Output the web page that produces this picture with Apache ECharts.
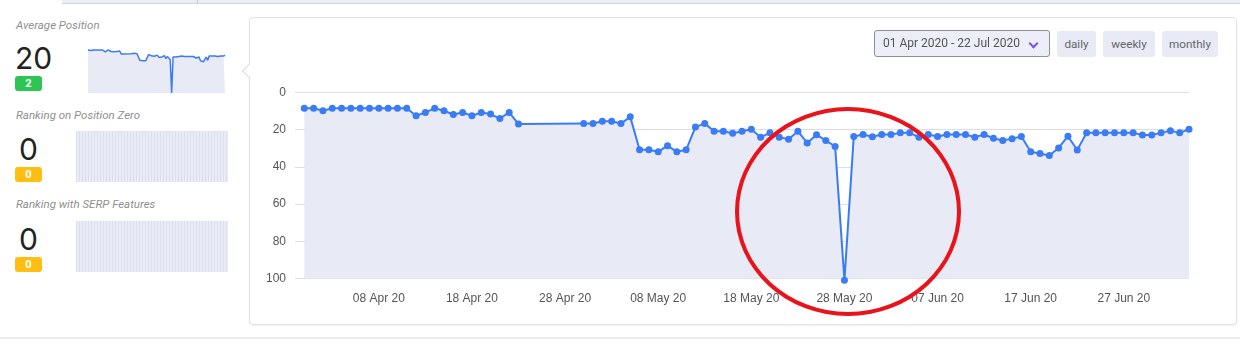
<!DOCTYPE html>
<html>
<head>
<meta charset="utf-8">
<script src="https://cdn.jsdelivr.net/npm/echarts@6/dist/echarts.min.js"></script>
<style>
  html, body { margin: 0; padding: 0; background: #fff; }
  body { width: 1240px; height: 344px; position: relative; overflow: hidden; font-family: Roboto, "Noto Sans", Arial, sans-serif; }
  .abs { position: absolute; }
  .topbar { left: 62px; top: 0; width: 1178px; height: 3px; background: #eceef6; border-bottom: 1px solid #d3d6e2; }
  .topdiv { left: 197px; top: 0; width: 1px; height: 4px; background: #c6c9d6; }
  .bottomline { left: 0; top: 337px; width: 1240px; height: 2px; background: #ececec; }
  .card { left: 249px; top: 17px; width: 986px; height: 306px; border: 1px solid #e3e3e3; border-radius: 4px; background: #fff; box-shadow: 0 1px 2px rgba(0,0,0,0.06); }
  .notch { left: 244px; top: 65.5px; width: 9px; height: 9px; background: #fff; border-left: 1px solid #dcdcdc; border-bottom: 1px solid #dcdcdc; transform: rotate(45deg); }
  .lbl { font-size: 11.5px; font-style: italic; color: #8f8f8f; left: 16px; white-space: nowrap; }
  .big { font-family: Inter, Roboto, sans-serif; font-size: 30px; color: #222; line-height: 30px; white-space: nowrap; text-align: center; }
  .badge { width: 27px; height: 15px; border-radius: 3px; color: #fff; font-weight: bold; font-size: 11px; line-height: 15px; text-align: center; left: 15px; }
  .green { background: #2dc653; }
  .amber { background: #ffbf12; }
  .zbox { left: 76px; width: 152px; height: 51px; background: #e9ebf6;
          background-image: repeating-linear-gradient(90deg, rgba(210,213,235,0.55) 0px, rgba(210,213,235,0.55) 1px, transparent 1px, transparent 3px); }
  #chart { left: 0; top: 0; width: 1240px; height: 344px; }
  .picker { left: 874px; top: 30px; width: 174px; height: 25px; border: 1px solid #8f8f96; border-radius: 3px; background: #eceef8; font-size: 12px; color: #555; line-height: 25px; box-sizing: content-box; }
  .picker span { position: absolute; left: 8px; top: 0; }
  .chev { position: absolute; left: 155px; top: 9px; width: 5px; height: 5px; border-right: 2px solid #7d52d8; border-bottom: 2px solid #7d52d8; transform: rotate(45deg); }
  .btn { top: 31px; height: 26px; border-radius: 3px; background: #e8eaf6; color: #666; font-size: 11.7px; line-height: 26px; text-align: center; }
  .ellipse { left: 735px; top: 107px; width: 226px; height: 209px; border: 4px solid #e8131b; border-radius: 50%; box-sizing: border-box; }
</style>
</head>
<body>
<div class="abs topbar"></div>
<div class="abs topdiv"></div>
<div class="abs bottomline"></div>
<div class="abs card"></div>
<div class="abs notch"></div>

<div class="abs lbl" style="top:18px;">Average Position</div>
<div class="abs big" style="left:15px; top:43px;">20</div>
<div class="abs badge green" style="top:76px;">2</div>

<div class="abs lbl" style="top:108px;">Ranking on Position Zero</div>
<div class="abs big" style="left:15px; width:27px; top:134px;">0</div>
<div class="abs badge amber" style="top:167px;">0</div>
<div class="abs zbox" style="top:131px;"></div>

<div class="abs lbl" style="top:197px;">Ranking with SERP Features</div>
<div class="abs big" style="left:15px; width:27px; top:224px;">0</div>
<div class="abs badge amber" style="top:257px;">0</div>
<div class="abs zbox" style="top:221px;"></div>

<div id="chart" class="abs"></div>

<div class="abs picker"><span>01 Apr 2020 - 22 Jul 2020</span><div class="chev"></div></div>
<div class="abs btn" style="left:1057px; width:39px;">daily</div>
<div class="abs btn" style="left:1103px; width:52px;">weekly</div>
<div class="abs btn" style="left:1162px; width:56px;">monthly</div>

<div class="abs ellipse"></div>

<script>
// ---- data ----
const dates = [
  '2020-03-31','2020-04-01','2020-04-02','2020-04-03','2020-04-04','2020-04-05','2020-04-06','2020-04-07',
  '2020-04-08','2020-04-09','2020-04-10','2020-04-11','2020-04-12','2020-04-13','2020-04-14','2020-04-15',
  '2020-04-16','2020-04-17','2020-04-18','2020-04-19','2020-04-20','2020-04-21','2020-04-22','2020-04-23',
  '2020-04-30','2020-05-01','2020-05-02','2020-05-03','2020-05-04','2020-05-05','2020-05-06','2020-05-07',
  '2020-05-08','2020-05-09','2020-05-10','2020-05-11','2020-05-12','2020-05-13','2020-05-14','2020-05-15',
  '2020-05-16','2020-05-17','2020-05-18','2020-05-19','2020-05-20','2020-05-21','2020-05-22','2020-05-23',
  '2020-05-24','2020-05-25','2020-05-26','2020-05-27','2020-05-28','2020-05-29','2020-05-30','2020-05-31',
  '2020-06-01','2020-06-02','2020-06-03','2020-06-04','2020-06-05','2020-06-06','2020-06-07','2020-06-08',
  '2020-06-09','2020-06-10','2020-06-11','2020-06-12','2020-06-13','2020-06-14','2020-06-15','2020-06-16',
  '2020-06-17','2020-06-18','2020-06-19','2020-06-20','2020-06-21','2020-06-22','2020-06-23','2020-06-24',
  '2020-06-25','2020-06-26','2020-06-27','2020-06-28','2020-06-29','2020-06-30','2020-07-01','2020-07-02',
  '2020-07-03','2020-07-04'
];
const avgPosition = [
  8.5, 8.5, 9.8, 8.5, 8.5, 8.5, 8.5, 8.5,
  8.5, 8.5, 8.5, 8.5, 12.5, 10.7, 8.5, 9.8,
  11.8, 10.7, 12.5, 10.7, 11.6, 14, 10.7, 17,
  16.7, 16.7, 15.5, 15.5, 16.7, 13.1, 30.8, 30.8,
  31.9, 28.6, 31.9, 30.8, 18.6, 16.6, 20.8, 20.8,
  21.9, 20.8, 19.7, 24, 21.7, 24, 25.1, 20.8,
  27.1, 22.7, 25.8, 29, 101, 23.6, 22.6, 23.8,
  22.6, 22.6, 21.7, 21.7, 24, 22.6, 23.7, 22.6,
  22.6, 22.6, 24, 22.6, 24.6, 25.8, 24.8, 23.7,
  31.9, 32.8, 33.9, 29.8, 23.5, 30.9, 21.7, 21.7,
  21.7, 21.7, 21.7, 21.7, 22.8, 22.8, 21.7, 20.5,
  21.7, 19.7
];
const xTickDates = ['2020-04-08','2020-04-18','2020-04-28','2020-05-08','2020-05-18','2020-05-28','2020-06-07','2020-06-17','2020-06-27'];
const yTicks = [0, 20, 40, 60, 80, 100];
const axisStart = '2020-03-30';
const axisEnd = '2020-07-04';
const monthNames = ['Jan','Feb','Mar','Apr','May','Jun','Jul','Aug','Sep','Oct','Nov','Dec'];

// ---- helpers ----
function ts(s) { const p = s.split('-').map(Number); return Date.UTC(p[0], p[1] - 1, p[2]); }
function fmt(v) {
  const d = new Date(v);
  const dd = String(d.getUTCDate()).padStart(2, '0');
  return dd + ' ' + monthNames[d.getUTCMonth()] + ' ' + String(d.getUTCFullYear()).slice(2);
}
const seriesData = dates.map((d, i) => [ts(d), avgPosition[i]]);
const blue = '#3a7cf5';
const area = '#e8eaf6';
const labelFont = '"Liberation Sans", Arial, sans-serif';

const chart = echarts.init(document.getElementById('chart'), null, { renderer: 'canvas' });
chart.setOption({
  animation: false,
  backgroundColor: 'transparent',
  grid: [
    { left: 295, right: 51, top: 92.5, bottom: 65.5 },
    { left: 88, top: 46, width: 137, height: 47 }
  ],
  xAxis: [
    {
      type: 'value', gridIndex: 0, min: ts(axisStart), max: ts(axisEnd),
      axisLine: { show: false }, axisTick: { show: false }, splitLine: { show: false },
      axisLabel: {
        customValues: xTickDates.map(ts), formatter: fmt,
        color: '#555', fontSize: 12, margin: 14, fontFamily: labelFont
      }
    },
    { type: 'value', gridIndex: 1, min: ts(dates[0]), max: ts(dates[dates.length - 1]), show: false }
  ],
  yAxis: [
    {
      type: 'value', gridIndex: 0, inverse: true, min: yTicks[0], max: yTicks[yTicks.length - 1], interval: 20,
      axisLine: { show: false }, axisTick: { show: false },
      splitLine: { lineStyle: { color: '#dedede', width: 1 } },
      axisLabel: { color: '#555', fontSize: 12, margin: 9, fontFamily: labelFont }
    },
    { type: 'value', gridIndex: 1, inverse: true, min: 0, max: 101, show: false }
  ],
  series: [
    {
      type: 'line', xAxisIndex: 0, yAxisIndex: 0, data: seriesData,
      symbol: 'circle', symbolSize: 7, showAllSymbol: true, clip: false,
      lineStyle: { color: blue, width: 2 },
      itemStyle: { color: blue },
      areaStyle: { color: area, opacity: 1, origin: 'end' },
      z: 3
    },
    {
      type: 'line', xAxisIndex: 1, yAxisIndex: 1, data: seriesData,
      symbol: 'none', clip: false,
      lineStyle: { color: blue, width: 1.5 },
      areaStyle: { color: area, opacity: 1, origin: 'end' }
    }
  ]
});
</script>
</body>
</html>
